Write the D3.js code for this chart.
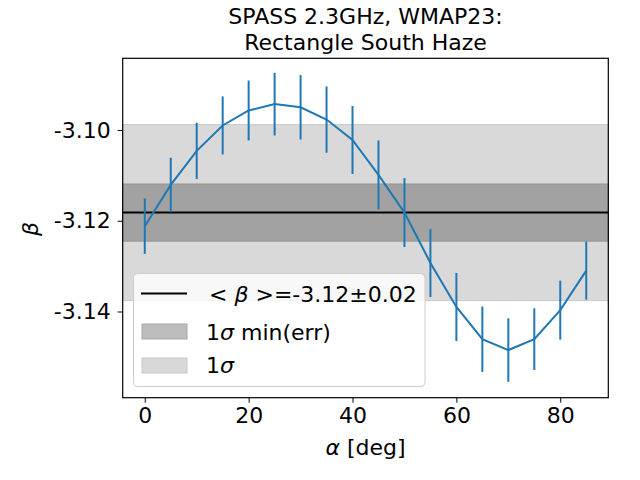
<!DOCTYPE html>
<html><head><meta charset="utf-8">
<script src="https://cdn.jsdelivr.net/npm/d3@7"></script>
<style>body{margin:0;background:#fff}svg text{font-family:"DejaVu Sans",sans-serif}</style>
</head><body><svg id="c" width="640" height="480"></svg>
<script>
const alpha = [0,5,10,15,20,25,30,35,40,45,50,55,60,65,70,75,80,85];
const beta = [-3.1212,-3.1121,-3.1046,-3.0990,-3.0957,-3.0943,-3.0950,-3.0977,-3.1022,-3.1099,-3.1182,-3.1293,-3.1390,-3.1461,-3.1485,-3.1461,-3.1397,-3.1310];
const err = [0.0061,0.0060,0.0062,0.0064,0.0066,0.0069,0.0071,0.0073,0.0075,0.0076,0.0076,0.0075,0.0075,0.0072,0.0070,0.0068,0.0065,0.0064];
const meanBeta = -3.1182;
const sigmaMin = 0.0063;
const sigma = 0.0194;
const xTicks = [0,20,40,60,80];
const yTicks = [-3.10,-3.12,-3.14];
const legendLabels = ["< β >=-3.12±0.02","1σ min(err)","1σ"];

const FS = 22;
const LW = 2;
const svg = d3.select("#c");
const L=122.7,R=608.3,T=58.3,B=397.7;
const x = d3.scaleLinear().domain([-4.25,89.25]).range([L,R]);
const y = d3.scaleLinear().domain([-3.1590,-3.0842]).range([B,T]);

const g = svg.append("g");
// bands
g.append("rect").attr("x",L).attr("width",R-L)
 .attr("y",y(meanBeta+sigma)).attr("height",y(meanBeta-sigma)-y(meanBeta+sigma))
 .attr("fill","#d9d9d9").attr("stroke","#c9c9c9").attr("stroke-width",1);
g.append("rect").attr("x",L).attr("width",R-L)
 .attr("y",y(meanBeta+sigmaMin)).attr("height",y(meanBeta-sigmaMin)-y(meanBeta+sigmaMin))
 .attr("fill","#a2a2a2").attr("stroke","#959595").attr("stroke-width",1);
// mean line
g.append("line").attr("x1",L).attr("x2",R).attr("y1",y(meanBeta)).attr("y2",y(meanBeta))
 .attr("stroke","#000").attr("stroke-width",LW);
// error bars
g.selectAll(".eb").data(alpha).enter().append("line")
 .attr("x1",(d)=>x(d)).attr("x2",(d)=>x(d))
 .attr("y1",(d,i)=>y(beta[i]+err[i])).attr("y2",(d,i)=>y(beta[i]-err[i]))
 .attr("stroke","#1f77b4").attr("stroke-width",LW);
// line
g.append("path").datum(alpha)
 .attr("d",d3.line().x(d=>x(d)).y((d,i)=>y(beta[i])))
 .attr("fill","none").attr("stroke","#1f77b4").attr("stroke-width",LW);

// legend
const lg = svg.append("g");
lg.append("rect").attr("x",133.5).attr("y",273.5).attr("width",291.5).attr("height",113)
 .attr("rx",4).attr("fill","#fff").attr("fill-opacity",0.8).attr("stroke","#cccccc").attr("stroke-width",1);
lg.append("line").attr("x1",141).attr("x2",187).attr("y1",293.5).attr("y2",293.5).attr("stroke","#000").attr("stroke-width",LW);
lg.append("rect").attr("x",142).attr("y",324).attr("width",45).attr("height",15).attr("fill","#bdbdbd").attr("stroke","#a8a8a8");
lg.append("rect").attr("x",142).attr("y",358).attr("width",45).attr("height",15).attr("fill","#d8d8d8").attr("stroke","#c8c8c8");
const ly=[301.5,340,372.5], lx=[209,206,206];
legendLabels.forEach((t,i)=>{
  const tx = lg.append("text").attr("x",lx[i]).attr("y",ly[i]).attr("font-size",FS).attr("fill","#000");
  if(i===0){
    tx.append("tspan").text("< ");
    tx.append("tspan").attr("font-style","italic").text("β");
    tx.append("tspan").text(" >=-3.12±0.02");
  } else if(i===1){
    tx.append("tspan").text("1");
    tx.append("tspan").attr("font-style","italic").text("σ");
    tx.append("tspan").text(" min(err)");
  } else {
    tx.append("tspan").text("1");
    tx.append("tspan").attr("font-style","italic").text("σ");
  }
});

// frame
svg.append("rect").attr("x",L).attr("y",T).attr("width",R-L).attr("height",B-T)
 .attr("fill","none").attr("stroke","#000").attr("stroke-width",1.2);

// axes
const xa = svg.append("g").attr("transform",`translate(0,${B})`)
 .call(d3.axisBottom(x).tickValues(xTicks).tickSize(5).tickPadding(5).tickFormat(d3.format("d")));
const ya = svg.append("g").attr("transform",`translate(${L},0)`)
 .call(d3.axisLeft(y).tickValues(yTicks).tickSize(5).tickPadding(7).tickFormat(d3.format(".2f")));
[xa,ya].forEach(a=>{
  a.select(".domain").remove();
  a.selectAll("text").attr("font-size",FS).attr("fill","#000").attr("font-family","DejaVu Sans");
  a.selectAll("line").attr("stroke","#000").attr("stroke-width",1);
});
ya.selectAll("text").text(d=>d3.format(".2f")(d).replace("−","-"));

// title
svg.append("text").attr("x",365.5).attr("y",24).attr("text-anchor","middle").attr("font-size",FS).text("SPASS 2.3GHz, WMAP23:");
svg.append("text").attr("x",365.5).attr("y",49.5).attr("text-anchor","middle").attr("font-size",FS).text("Rectangle South Haze");
// axis labels
const xl = svg.append("text").attr("x",365.5).attr("y",455).attr("text-anchor","middle").attr("font-size",FS);
xl.append("tspan").attr("font-style","italic").text("α");
xl.append("tspan").text(" [deg]");
svg.append("text").attr("transform","translate(37.5,229) rotate(-90)").attr("text-anchor","middle")
 .attr("font-size",FS).attr("font-style","italic").text("β");
</script></body></html>
